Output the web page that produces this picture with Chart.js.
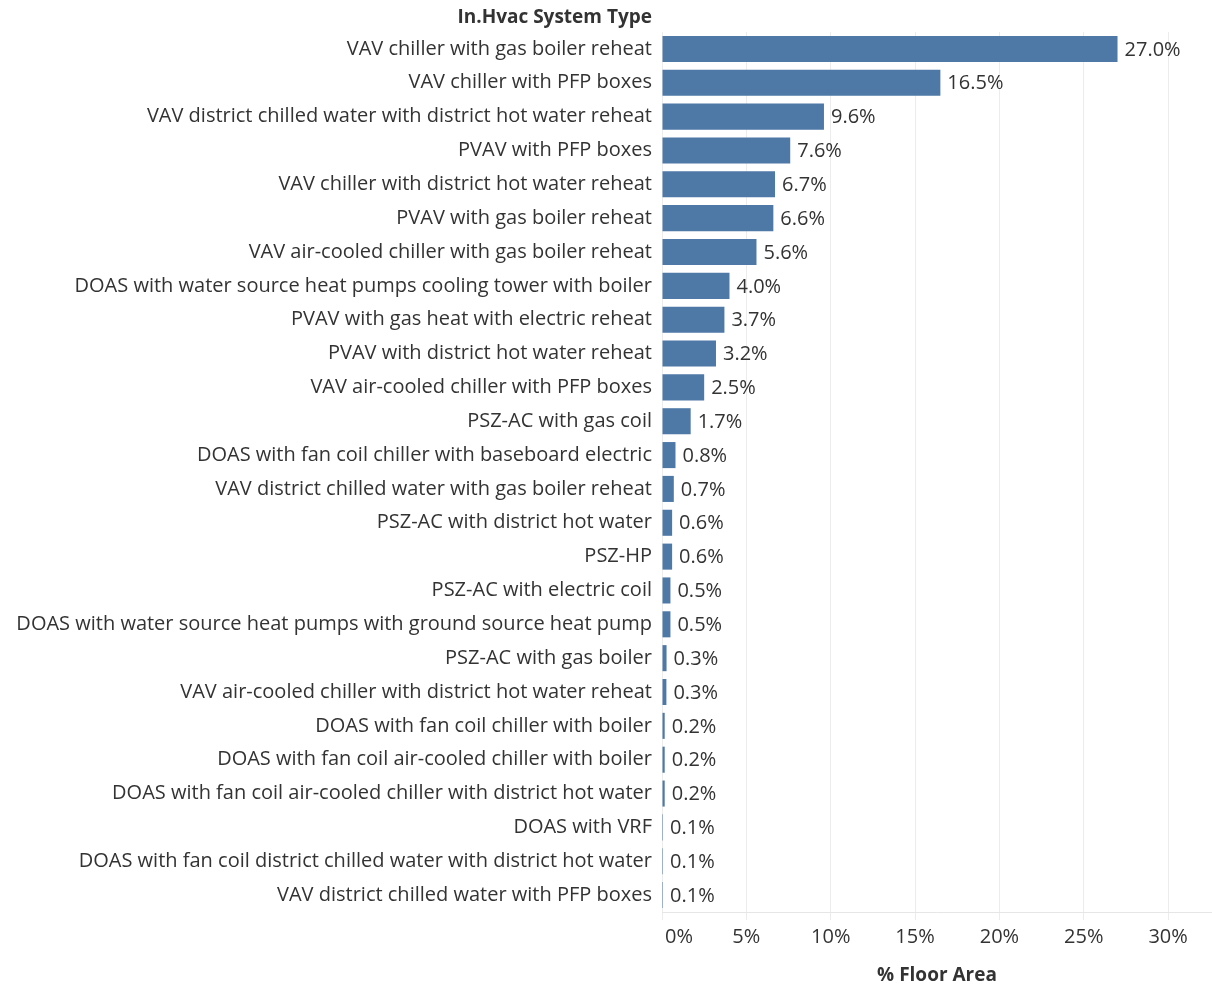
<!DOCTYPE html>
<html>
<head>
<meta charset="utf-8">
<script src="https://cdn.jsdelivr.net/npm/chart.js@4.4.1/dist/chart.umd.min.js"></script>
<style>
  html, body { margin: 0; padding: 0; background: #fff; }
  #wrap { width: 1212px; height: 987px; }
</style>
</head>
<body>
<div id="wrap"><canvas id="chart"></canvas></div>
<script>
const categories = [
  'VAV chiller with gas boiler reheat',
  'VAV chiller with PFP boxes',
  'VAV district chilled water with district hot water reheat',
  'PVAV with PFP boxes',
  'VAV chiller with district hot water reheat',
  'PVAV with gas boiler reheat',
  'VAV air-cooled chiller with gas boiler reheat',
  'DOAS with water source heat pumps cooling tower with boiler',
  'PVAV with gas heat with electric reheat',
  'PVAV with district hot water reheat',
  'VAV air-cooled chiller with PFP boxes',
  'PSZ-AC with gas coil',
  'DOAS with fan coil chiller with baseboard electric',
  'VAV district chilled water with gas boiler reheat',
  'PSZ-AC with district hot water',
  'PSZ-HP',
  'PSZ-AC with electric coil',
  'DOAS with water source heat pumps with ground source heat pump',
  'PSZ-AC with gas boiler',
  'VAV air-cooled chiller with district hot water reheat',
  'DOAS with fan coil chiller with boiler',
  'DOAS with fan coil air-cooled chiller with boiler',
  'DOAS with fan coil air-cooled chiller with district hot water',
  'DOAS with VRF',
  'DOAS with fan coil district chilled water with district hot water',
  'VAV district chilled water with PFP boxes'
];

// % floor area
const floorArea = [
  27.0, 16.5, 9.6, 7.6, 6.7, 6.6, 5.6, 4.0, 3.7, 3.2, 2.5, 1.7, 0.8,
  0.7, 0.6, 0.6, 0.5, 0.5, 0.27, 0.26, 0.16, 0.16, 0.16, 0.06, 0.06, 0.06
];

const xTicks = [0, 5, 10, 15, 20, 25, 30];

const FONT = '"Open Sans", "DejaVu Sans", sans-serif';
const TEXT = '#333333';

// draws the category header, the value labels and the x tick labels
const extras = {
  id: 'extras',
  afterDraw(chart) {
    const ctx = chart.ctx;
    const area = chart.chartArea;
    const xs = chart.scales.x;
    ctx.save();
    ctx.fillStyle = TEXT;

    ctx.font = 'bold 19px ' + FONT;
    ctx.textAlign = 'right';
    ctx.textBaseline = 'middle';
    ctx.fillText('In.Hvac System Type', area.left - 10, 18);

    ctx.font = '20px ' + FONT;
    ctx.textAlign = 'left';
    const meta = chart.getDatasetMeta(0);
    meta.data.forEach((bar, i) => {
      ctx.fillText(floorArea[i].toFixed(1) + '%', bar.x + 7, bar.y + 1);
    });

    xTicks.forEach((v, i) => {
      const px = xs.getPixelForValue(v);
      ctx.textAlign = i === 0 ? 'left' : 'center';
      ctx.fillText(v + '%', i === 0 ? px + 3 : px, 937);
    });
    ctx.restore();
  }
};

new Chart(document.getElementById('chart'), {
  type: 'bar',
  data: {
    labels: categories,
    datasets: [{
      data: floorArea,
      backgroundColor: '#4e79a7',
      borderWidth: 0,
      barPercentage: 0.77,
      categoryPercentage: 1
    }]
  },
  options: {
    indexAxis: 'y',
    responsive: true,
    maintainAspectRatio: false,
    animation: false,
    layout: { padding: { top: 32, right: 0, bottom: 0, left: 0 } },
    plugins: {
      legend: { display: false },
      tooltip: { enabled: false }
    },
    scales: {
      x: {
        min: 0,
        max: 32.6,
        afterBuildTicks: scale => { scale.ticks = xTicks.map(v => ({ value: v })); },
        afterFit: scale => { scale.height = 75; },
        grid: { color: '#ececec', lineWidth: 1, tickLength: 8, drawTicks: true },
        border: { display: true, color: '#e6e6e6' },
        ticks: { display: false },
        title: {
          display: true,
          text: '% Floor Area',
          color: TEXT,
          font: { family: FONT, size: 19, weight: 'bold' },
          padding: { top: 0, bottom: 0 }
        }
      },
      y: {
        afterFit: scale => { scale.width = 662; },
        grid: { display: false, drawTicks: false },
        border: { display: false },
        ticks: {
          color: TEXT,
          padding: 10,
          font: { family: FONT, size: 20 },
          autoSkip: false
        }
      }
    }
  },
  plugins: [extras]
});
</script>
</body>
</html>
